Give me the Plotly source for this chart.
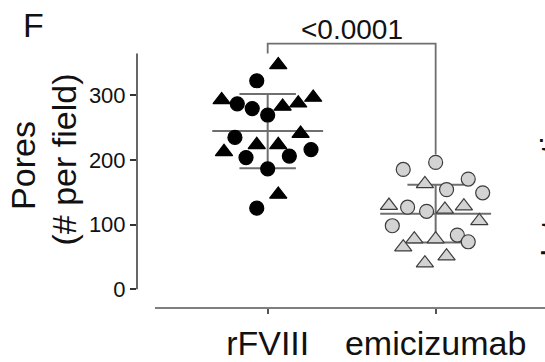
import plotly.graph_objects as go

# ---- data ----
groups = ["rFVIII", "emicizumab"]

rfviii_values = [347.2, 322.6, 292.9, 286.9, 279.5, 269.6, 282.9, 287.8, 296.7, 235.0,
                 240.9, 223.5, 223.5, 212.7, 203.8, 206.1, 216.1, 186.4, 146.7, 125.5]
rfviii_jitter = [0.063, -0.065, -0.274, -0.181, -0.092, 0.0, 0.089, 0.182, 0.271, -0.195,
                 0.196, -0.065, 0.063, -0.260, -0.129, 0.129, 0.258, 0.0, 0.063, -0.065]
rfviii_shape = ["t", "c", "t", "c", "c", "c", "t", "t", "t", "c",
                "t", "t", "t", "t", "c", "c", "c", "c", "t", "c"]

emi_values = [196.3, 185.4, 163.1, 170.5, 154.2, 149.3, 129.5, 127.0, 120.6, 123.6,
              128.5, 105.7, 98.3, 77.5, 65.1, 77.5, 83.9, 73.5, 51.2, 40.4]
emi_jitter = [0.0, -0.193, -0.064, 0.194, 0.065, 0.280, -0.278, -0.167, -0.054, 0.055,
              0.168, 0.260, -0.258, -0.127, -0.193, 0.0, 0.129, 0.194, 0.065, -0.064]
emi_shape = ["c", "c", "t", "c", "c", "c", "t", "c", "c", "t",
             "t", "t", "c", "t", "t", "t", "c", "c", "t", "t"]

means = [244.8, 117.0]
sds = [57.4, 44.6]

y_ticks = [0, 100, 200, 300]
p_label = "<0.0001"
bracket_y = 380.2
bracket_legs = [364.6, 208.7]
y_axis_top = 364.6

FONT = "Liberation Sans, Arial, sans-serif"
LINE_COL = "#6f6f6f"

fig = go.Figure()

# mean and SD lines (drawn under the points)
for i, (m, s) in enumerate(zip(means, sds)):
    fig.add_trace(go.Scatter(x=[i - 0.33, i + 0.33], y=[m, m], mode="lines",
                             line=dict(color=LINE_COL, width=2), hoverinfo="skip"))
    fig.add_trace(go.Scatter(x=[i, i], y=[m - s, m + s], mode="lines",
                             line=dict(color=LINE_COL, width=2), hoverinfo="skip"))
    for yy in (m - s, m + s):
        fig.add_trace(go.Scatter(x=[i - 0.168, i + 0.168], y=[yy, yy], mode="lines",
                                 line=dict(color=LINE_COL, width=2), hoverinfo="skip"))

# significance bracket
fig.add_trace(go.Scatter(x=[0, 0, 1, 1],
                         y=[bracket_legs[0], bracket_y, bracket_y, bracket_legs[1]],
                         mode="lines", line=dict(color=LINE_COL, width=1.8),
                         hoverinfo="skip"))


def add_points(idx, vals, jit, shp, fill, edge):
    for kind, sym, size in (("c", "circle", 14), ("t", "triangle-up", 15)):
        xs = [idx + j for j, s in zip(jit, shp) if s == kind]
        ys = [v for v, s in zip(vals, shp) if s == kind]
        fig.add_trace(go.Scatter(x=xs, y=ys, mode="markers",
                                 marker=dict(symbol=sym, size=size, color=fill,
                                             line=dict(color=edge, width=1.2))))


add_points(0, rfviii_values, rfviii_jitter, rfviii_shape, "#000000", "#000000")
add_points(1, emi_values, emi_jitter, emi_shape, "#d3d3d3", "#3c3c3c")

# axis lines as shapes (y axis stops at 0; x axis detached below)
fig.add_shape(type="line", xref="paper", yref="y", x0=0, x1=0, y0=0, y1=y_axis_top,
              line=dict(color="#333333", width=1.5))
fig.add_shape(type="line", xref="paper", yref="paper", x0=0.044, x1=1.0, y0=0, y1=0,
              line=dict(color="#555555", width=1.5))

# texts
fig.add_annotation(text="F", xref="paper", yref="paper", x=-0.282, y=0.983,
                   xanchor="left", yanchor="middle", showarrow=False, borderpad=0,
                   font=dict(family=FONT, size=34, color="#111111"))
fig.add_annotation(text=p_label, xref="x", yref="paper", x=0.5, y=0.966,
                   xanchor="center", yanchor="middle", showarrow=False, borderpad=0,
                   font=dict(family=FONT, size=28, color="#111111"))
fig.add_annotation(text="Pores", xref="paper", yref="paper", x=-0.279, y=0.494,
                   xanchor="center", yanchor="middle", textangle=-90, showarrow=False,
                   borderpad=0, font=dict(family=FONT, size=34, color="#111111"))
fig.add_annotation(text="(# per field)", xref="paper", yref="paper", x=-0.178, y=0.517,
                   xanchor="center", yanchor="middle", textangle=-90, showarrow=False,
                   borderpad=0, font=dict(family=FONT, size=34, color="#111111"))
# cut-off text of the neighbouring panel, only its letter tops show at the right edge
fig.add_annotation(text="Interactions", xref="paper", yref="paper", x=1.018, y=0.482,
                   xanchor="center", yanchor="middle", textangle=-90, showarrow=False,
                   borderpad=0, font=dict(family=FONT, size=34, color="#111111"))

fig.update_layout(
    width=545, height=362,
    margin=dict(l=137, r=0, t=20, b=42),
    paper_bgcolor="white", plot_bgcolor="white",
    showlegend=False,
    xaxis=dict(range=[-0.778, 1.651], tickvals=[0, 1], ticktext=groups,
               showgrid=False, zeroline=False, showline=False,
               ticks="outside", ticklen=5, tickwidth=1.5, tickcolor="#555555",
               tickfont=dict(family=FONT, size=34, color="#111111")),
    yaxis=dict(range=[-28.96, 416.6], tickvals=y_ticks,
               showgrid=False, zeroline=False, showline=False,
               ticks="outside", ticklen=6, tickwidth=1.5, tickcolor="#333333",
               tickfont=dict(family=FONT, size=22, color="#111111")),
)

fig.write_html("out.html")
